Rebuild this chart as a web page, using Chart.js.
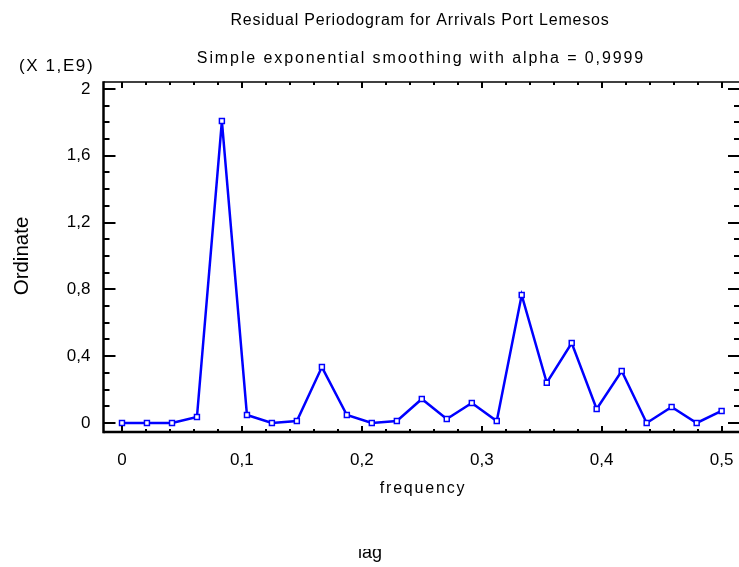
<!DOCTYPE html>
<html><head><meta charset="utf-8">
<script src="https://cdn.jsdelivr.net/npm/chart.js@4"></script>
<style>html,body{margin:0;padding:0;background:#fff}#wrap{width:739px;height:567px;overflow:hidden;position:relative;background:#fff}canvas{display:block}</style>
</head><body><div id="wrap"><canvas id="c" width="750" height="567"></canvas></div>
<script>
const frequency = [0, 0.0208, 0.0417, 0.0625, 0.0833, 0.1042, 0.125, 0.1458, 0.1667, 0.1875, 0.2083, 0.2292, 0.25, 0.2708, 0.2917, 0.3125, 0.3333, 0.3542, 0.375, 0.3958, 0.4167, 0.4375, 0.4583, 0.4792, 0.5];
const ordinate = [0, 0, 0, 0.036, 1.808, 0.048, 0, 0.012, 0.335, 0.048, 0, 0.012, 0.144, 0.024, 0.12, 0.012, 0.766, 0.241, 0.479, 0.084, 0.311, 0, 0.096, 0, 0.072];
const xTickValues = [0, 0.1, 0.2, 0.3, 0.4, 0.5];
const xTickLabels = ['0', '0,1', '0,2', '0,3', '0,4', '0,5'];
const yTickValues = [0, 0.4, 0.8, 1.2, 1.6, 2];
const yTickLabels = ['0', '0,4', '0,8', '1,2', '1,6', '2'];
const titleText = 'Residual Periodogram for Arrivals Port Lemesos';
const subtitleText = 'Simple exponential smoothing with alpha = 0,9999';
const scaleNote = '(X 1,E9)';
const yTitle = 'Ordinate';
const xTitle = 'frequency';
const bottomNote = 'lag';

const FONT = '"Liberation Sans", Arial, sans-serif';

const framePlugin = {
  id: 'frame',
  afterDraw(chart) {
    const { ctx, chartArea: a, scales: { x, y } } = chart;
    ctx.save();
    ctx.strokeStyle = '#000';
    const line = (x1, y1, x2, y2) => { ctx.beginPath(); ctx.moveTo(x1, y1); ctx.lineTo(x2, y2); ctx.stroke(); };
    ctx.lineWidth = 1.5;
    line(a.left, a.top, a.right, a.top);
    line(a.right, a.top, a.right, a.bottom);
    ctx.lineWidth = 2.5;
    line(a.left, a.top - 0.75, a.left, a.bottom + 1.25);
    line(a.left, a.bottom, a.right, a.bottom);
    ctx.lineWidth = 2;
    for (let i = 0; i <= 20; i++) {
      const py = Math.round(y.getPixelForValue(i / 10));
      const len = i % 4 === 0 ? 12 : 6;
      line(a.left, py, a.left + len, py);
      line(a.right - 2, py, a.right - 2 - len, py);
    }
    for (let i = 0; i <= 25; i++) {
      const px = Math.round(x.getPixelForValue(i * 0.02));
      if (px > a.right - 2) continue;
      const len = i % 5 === 0 ? 6 : 3;
      line(px, a.bottom, px, a.bottom - len);
      line(px, a.top, px, a.top + len);
    }
    const setLS = v => { try { ctx.letterSpacing = v; } catch (e) {} };
    ctx.fillStyle = '#000';
    ctx.textAlign = 'center';
    ctx.textBaseline = 'middle';
    ctx.font = '16px ' + FONT;
    setLS('0.8px');
    ctx.fillText(titleText, 420, 21);
    setLS('1.9px');
    ctx.fillText(subtitleText, 421, 59);
    ctx.textAlign = 'left';
    ctx.font = '17px ' + FONT;
    setLS('1.6px');
    ctx.fillText(scaleNote, 19, 66);
    ctx.textAlign = 'center';
    ctx.font = '16px ' + FONT;
    setLS('1.8px');
    ctx.fillText(xTitle, 423, 489);
    setLS('0px');
    ctx.save();
    ctx.translate(22, 256);
    ctx.rotate(-Math.PI / 2);
    ctx.font = '20.5px ' + FONT;
    ctx.fillText(yTitle, 0, 0);
    ctx.restore();
    ctx.save();
    ctx.beginPath();
    ctx.rect(0, 549, 739, 20);
    ctx.clip();
    ctx.font = '18px ' + FONT;
    ctx.fillText(bottomNote, 370, 553);
    ctx.restore();
    ctx.restore();
  }
};

new Chart(document.getElementById('c'), {
  type: 'scatter',
  data: {
    datasets: [{
      data: frequency.map((f, i) => ({ x: f, y: ordinate[i] })),
      showLine: true,
      borderColor: '#0000ff',
      borderWidth: 2.5,
      pointStyle: 'rect',
      pointRadius: 3.5,
      pointBorderWidth: 1.5,
      pointBackgroundColor: '#ffffff',
      pointBorderColor: '#0000ff',
      tension: 0
    }]
  },
  options: {
    responsive: false,
    animation: false,
    devicePixelRatio: 1,
    layout: { padding: { left: 0, top: 82, right: 8, bottom: 0 } },
    plugins: { legend: { display: false }, title: { display: false }, tooltip: { enabled: false } },
    scales: {
      x: {
        type: 'linear',
        min: -0.01542,
        max: 0.517,
        grid: { display: false, drawTicks: false },
        border: { display: false },
        afterBuildTicks: s => { s.ticks = xTickValues.map(v => ({ value: v })); },
        afterFit: s => { s.height = 135; s.paddingLeft = 0; s.paddingRight = 0; },
        ticks: {
          padding: 18,
          autoSkip: false,
          maxRotation: 0,
          color: '#000',
          font: { family: FONT, size: 17 },
          callback: v => { const i = xTickValues.findIndex(t => Math.abs(t - v) < 1e-6); return i >= 0 ? xTickLabels[i] : ''; }
        }
      },
      y: {
        type: 'linear',
        min: -0.0539,
        max: 2.0419,
        grid: { display: false, drawTicks: false },
        border: { display: false },
        afterBuildTicks: s => { s.ticks = yTickValues.map(v => ({ value: v })); },
        afterFit: s => { s.width = 103.5; s.paddingTop = 0; s.paddingBottom = 0; },
        ticks: {
          padding: 13,
          autoSkip: false,
          color: '#000',
          font: { family: FONT, size: 17 },
          callback: v => { const i = yTickValues.findIndex(t => Math.abs(t - v) < 1e-6); return i >= 0 ? yTickLabels[i] : ''; }
        }
      }
    }
  },
  plugins: [framePlugin]
});
</script>
</body></html>
